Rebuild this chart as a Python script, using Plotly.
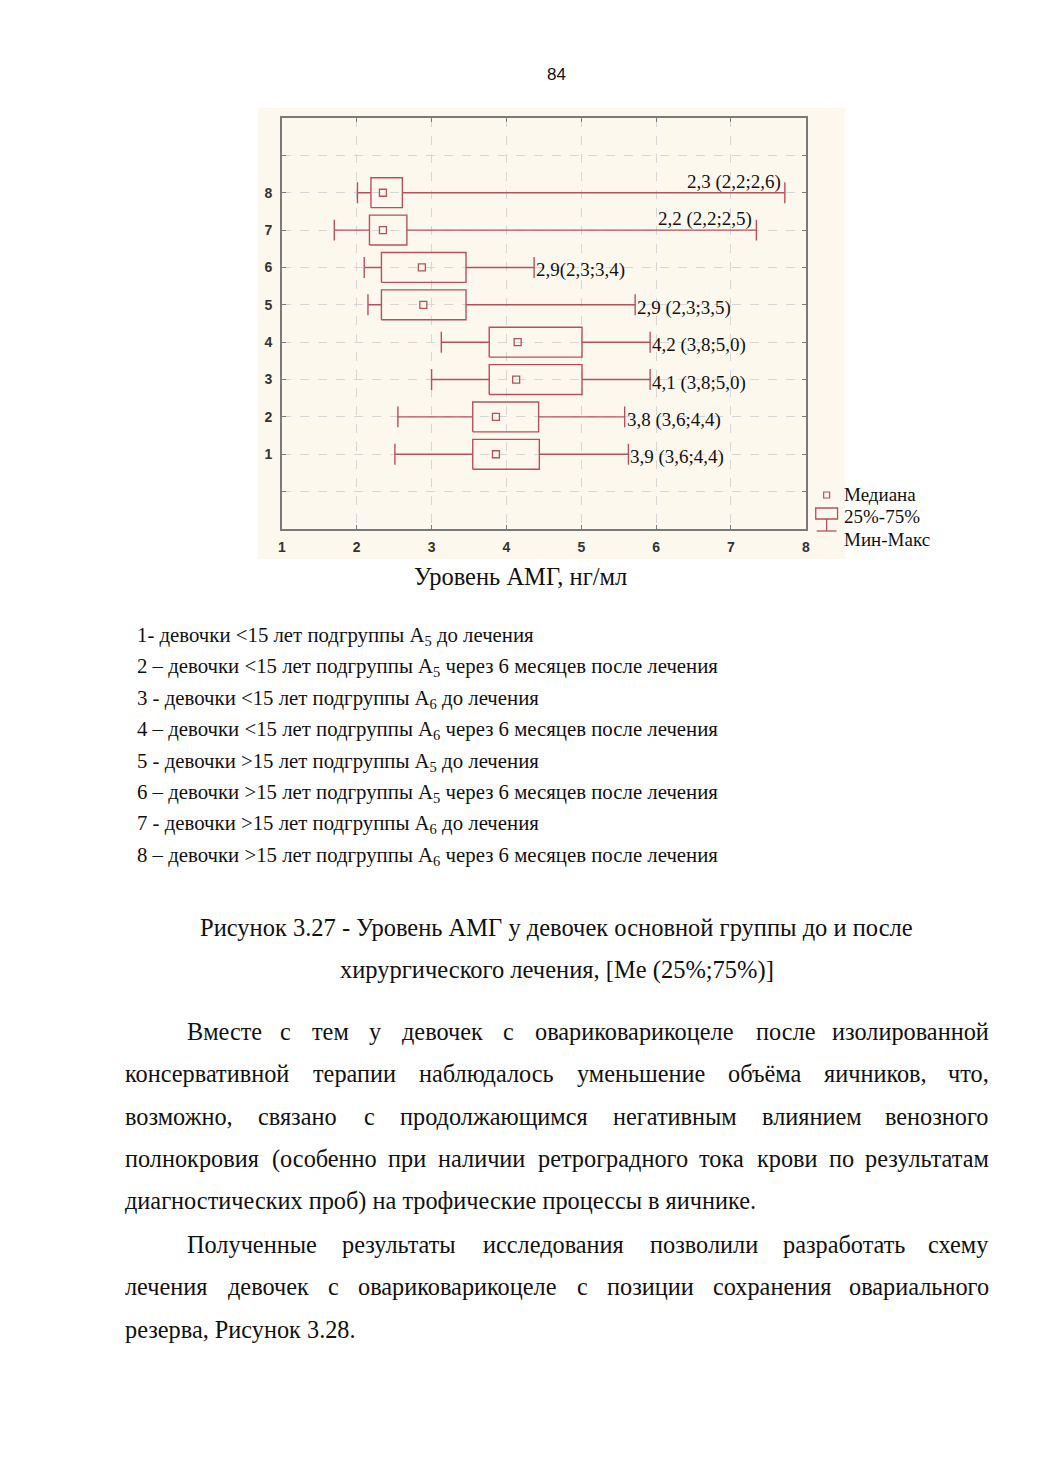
import plotly.graph_objects as go

# ---------------- data ----------------
groups = [1, 2, 3, 4, 5, 6, 7, 8]
mins = [2.51, 2.55, 3.00, 3.13, 2.15, 2.10, 1.70, 2.01]
q1s = [3.55, 3.55, 3.77, 3.77, 2.33, 2.33, 2.17, 2.19]
medians = [3.86, 3.86, 4.13, 4.15, 2.89, 2.87, 2.35, 2.35]
q3s = [4.44, 4.43, 5.01, 5.01, 3.46, 3.46, 2.67, 2.61]
maxs = [5.63, 5.58, 5.92, 5.92, 5.72, 4.37, 7.34, 7.72]
value_labels = ["3,9 (3,6;4,4)", "3,8 (3,6;4,4)", "4,1 (3,8;5,0)", "4,2 (3,8;5,0)",
                "2,9 (2,3;3,5)", "2,9(2,3;3,4)", "2,2 (2,2;2,5)", "2,3 (2,2;2,6)"]
x_ticks = [1, 2, 3, 4, 5, 6, 7, 8]
y_ticks = [0, 1, 2, 3, 4, 5, 6, 7, 8, 9]
y_ticktext = ["", "1", "2", "3", "4", "5", "6", "7", "8", ""]

group_desc = [
    "1- девочки &lt;15 лет подгруппы A<sub>5</sub> до лечения",
    "2 – девочки &lt;15 лет подгруппы A<sub>5</sub> через 6 месяцев после лечения",
    "3 - девочки &lt;15 лет подгруппы A<sub>6</sub> до лечения",
    "4 – девочки &lt;15 лет подгруппы A<sub>6</sub> через 6 месяцев после лечения",
    "5 - девочки &gt;15 лет подгруппы A<sub>5</sub> до лечения",
    "6 – девочки &gt;15 лет подгруппы A<sub>5</sub> через 6 месяцев после лечения",
    "7 - девочки &gt;15 лет подгруппы A<sub>6</sub> до лечения",
    "8 – девочки &gt;15 лет подгруппы A<sub>6</sub> через 6 месяцев после лечения",
]
caption = ["Рисунок 3.27 - Уровень АМГ у девочек основной группы до и после",
           "хирургического лечения, [Me (25%;75%)]"]
paragraph = [
    (True, True, "Вместе с тем у девочек с овариковарикоцеле после изолированной"),
    (False, True, "консервативной терапии наблюдалось уменьшение объёма яичников, что,"),
    (False, True, "возможно, связано с продолжающимся негативным влиянием венозного"),
    (False, True, "полнокровия (особенно при наличии ретроградного тока крови по результатам"),
    (False, False, "диагностических проб) на трофические процессы в яичнике."),
    (True, True, "Полученные результаты исследования позволили разработать схему"),
    (False, True, "лечения девочек с овариковарикоцеле с позиции сохранения овариального"),
    (False, False, "резерва, Рисунок 3.28."),
]

# ---------------- styling ----------------
OFF = 8  # page body margin
W, H = 1040 - OFF, 1471 - OFF
BOXC = "#b4525b"
SERIF = "Liberation Serif, Times New Roman, serif"
SANS = "Liberation Sans, Arial, sans-serif"
TXT = "#111111"
BOX_HALF = 0.4
CAP_HALF = 0.28


def px(x):
    return (x - OFF) / W


def py(y):
    return 1 - (y - OFF) / H


fig = go.Figure()

# boxes
bx, by = [], []
for g, a, b in zip(groups, q1s, q3s):
    bx += [a, b, b, a, a, None]
    by += [g - BOX_HALF, g - BOX_HALF, g + BOX_HALF, g + BOX_HALF, g - BOX_HALF, None]
fig.add_trace(go.Scatter(x=bx, y=by, mode="lines", line=dict(color=BOXC, width=1.4),
                         hoverinfo="skip", showlegend=False))

# whiskers and caps
wx, wy = [], []
for g, lo, a, b, hi in zip(groups, mins, q1s, q3s, maxs):
    wx += [lo, a, None, b, hi, None, lo, lo, None, hi, hi, None]
    wy += [g, g, None, g, g, None, g - CAP_HALF, g + CAP_HALF, None, g - CAP_HALF, g + CAP_HALF, None]
fig.add_trace(go.Scatter(x=wx, y=wy, mode="lines", line=dict(color=BOXC, width=1.4),
                         hoverinfo="skip", showlegend=False))

# medians
fig.add_trace(go.Scatter(x=medians, y=groups, mode="markers",
                         marker=dict(symbol="square-open", size=7, color=BOXC, line=dict(width=1.3)),
                         showlegend=False))

# value labels
for g, hi, lab in zip(groups, maxs, value_labels):
    if g >= 7:
        fig.add_annotation(x=hi, y=g, xref="x", yref="y", text=lab, showarrow=False,
                           xanchor="right", yanchor="middle", xshift=-2, yshift=11,
                           font=dict(family=SERIF, size=19, color=TXT))
    else:
        fig.add_annotation(x=hi, y=g, xref="x", yref="y", text=lab, showarrow=False,
                           xanchor="left", yanchor="middle", xshift=0, yshift=-3,
                           font=dict(family=SERIF, size=19, color=TXT))

# cream background of the embedded chart image
fig.add_shape(type="rect", xref="paper", yref="paper", x0=px(256), x1=px(848), y0=py(559), y1=py(108),
              fillcolor="#fdf8ee", line=dict(width=0), layer="below")

# legend symbols
fig.add_shape(type="rect", xref="paper", yref="paper", x0=px(826), x1=px(832), y0=py(498), y1=py(492),
              line=dict(color=BOXC, width=1.2))
fig.add_shape(type="rect", xref="paper", yref="paper", x0=px(818), x1=px(840), y0=py(519), y1=py(508),
              line=dict(color=BOXC, width=1.3))
fig.add_shape(type="line", xref="paper", yref="paper", x0=px(829), x1=px(829), y0=py(531), y1=py(519),
              line=dict(color=BOXC, width=1.3))
fig.add_shape(type="line", xref="paper", yref="paper", x0=px(819), x1=px(839), y0=py(531), y1=py(531),
              line=dict(color=BOXC, width=1.3))
for t, yy in zip(["Медиана", "25%-75%", "Мин-Макс"], [495, 517, 539]):
    fig.add_annotation(x=px(844), y=py(yy), xref="paper", yref="paper", text=t, showarrow=False,
                       xanchor="left", yanchor="middle", font=dict(family=SERIF, size=19, color=TXT))

# page number
fig.add_annotation(x=px(557), y=py(74), xref="paper", yref="paper", text="84", showarrow=False,
                   xanchor="center", yanchor="middle", font=dict(family=SANS, size=17, color=TXT))

# axis title
fig.add_annotation(x=px(520), y=py(576), xref="paper", yref="paper", text="Уровень АМГ, нг/мл",
                   showarrow=False, xanchor="center", yanchor="middle",
                   font=dict(family=SERIF, size=24.5, color=TXT))

# group descriptions
for i, t in enumerate(group_desc):
    fig.add_annotation(x=px(133), y=py(636 + i * 31.4), xref="paper", yref="paper", text=t,
                       showarrow=False, xanchor="left", yanchor="middle", borderpad=0,
                       font=dict(family=SERIF, size=20.8, color=TXT))

# caption
for t, yy in zip(caption, [927, 970]):
    fig.add_annotation(x=px(557), y=py(yy), xref="paper", yref="paper", text=t, showarrow=False,
                       xanchor="center", yanchor="middle", font=dict(family=SERIF, size=24.5, color=TXT))

# paragraph (justified by spreading words)
CW = {"а": .444, "б": .5, "в": .472, "г": .41, "д": .5, "е": .444, "ё": .444, "ж": .69,
      "з": .395, "и": .535, "й": .535, "к": .475, "л": .5, "м": .62, "н": .535, "о": .5,
      "п": .535, "р": .5, "с": .444, "т": .43, "у": .5, "ф": .65, "х": .5, "ц": .535,
      "ч": .5, "ш": .77, "щ": .77, "ъ": .5, "ы": .69, "ь": .46, "э": .44, "ю": .73,
      "я": .5, ",": .25, ".": .25, "(": .333, ")": .333, "В": .62, "П": .72, "Р": .556}


def word_w(wd, size):
    return sum(CW.get(c, .5) for c in wd) * size


PSIZE = 24.3
LEFT, RIGHT, INDENT = 121, 994, 62
for i, (indent, justify, line) in enumerate(paragraph):
    yy = 1031 + i * 42.6
    x0 = LEFT + (INDENT if indent else 0)
    if not justify:
        fig.add_annotation(x=px(x0), y=py(yy), xref="paper", yref="paper", text=line, showarrow=False,
                           xanchor="left", yanchor="middle", borderpad=0,
                           font=dict(family=SERIF, size=PSIZE, color=TXT))
        continue
    words = line.split(" ")
    widths = [word_w(w, PSIZE) for w in words]
    gap = (RIGHT - x0 - sum(widths)) / (len(words) - 1)
    cx = x0
    for j, (wd, ww) in enumerate(zip(words, widths)):
        last = j == len(words) - 1
        fig.add_annotation(x=px(RIGHT if last else cx), y=py(yy), xref="paper", yref="paper", text=wd,
                           showarrow=False, xanchor="right" if last else "left", yanchor="middle",
                           borderpad=0, font=dict(family=SERIF, size=PSIZE, color=TXT))
        cx += ww + gap

fig.update_layout(
    width=W, height=H, margin=dict(l=0, r=0, t=0, b=0),
    paper_bgcolor="white", plot_bgcolor="white", showlegend=False,
    xaxis=dict(domain=[px(280), px(808)], range=[1, 8], tickvals=x_ticks,
               showgrid=True, gridcolor="#d6d6d6", griddash="dash", gridwidth=1,
               showline=True, linecolor="#7a7a7a", linewidth=1.6, mirror="ticks",
               ticks="inside", ticklen=4, tickcolor="#7a7a7a", zeroline=False,
               tickfont=dict(family=SANS, size=14, color="#333", weight="bold"), ticklabelstandoff=4),
    yaxis=dict(domain=[py(529), py(118)], range=[-1, 10], tickvals=y_ticks, ticktext=y_ticktext,
               showgrid=True, gridcolor="#d6d6d6", griddash="dash", gridwidth=1,
               showline=True, linecolor="#7a7a7a", linewidth=1.6, mirror="ticks",
               ticks="inside", ticklen=4, tickcolor="#7a7a7a", zeroline=False,
               tickfont=dict(family=SANS, size=14, color="#333", weight="bold"), ticklabelstandoff=5),
)

fig.write_html("out.html")
